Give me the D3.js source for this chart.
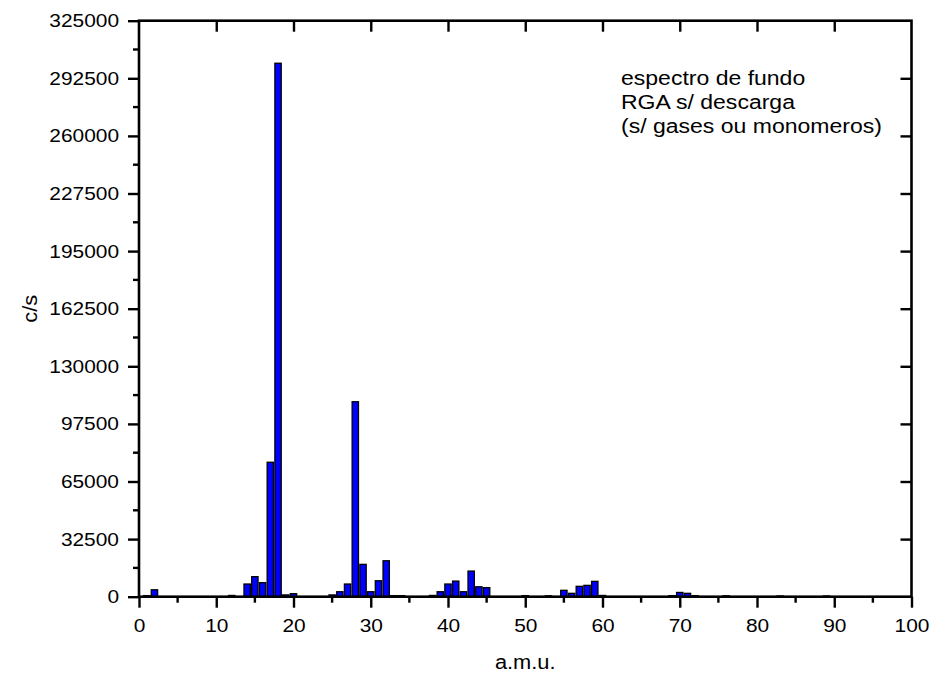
<!DOCTYPE html>
<html><head><meta charset="utf-8">
<script src="https://cdn.jsdelivr.net/npm/d3@7"></script>
<style>
html,body{margin:0;padding:0;background:#fff;}
text{font-family:"Liberation Sans",Arial,sans-serif;fill:#000;}
</style></head>
<body><svg id="c" width="932" height="680"></svg>
<script>
const amu    = [1,2,12,14,15,16,17,18,19,20,25,26,27,28,29,30,31,32,33,34,38,39,40,41,42,43,44,45,50,53,55,56,57,58,59,60,69,70,71,72,76,83,89];
const counts = [600,3900,700,7150,11300,7900,75850,301000,1000,1700,1000,2800,7150,110000,18250,2800,9000,20270,600,600,700,2800,7150,8800,2800,14450,5600,5100,600,500,3600,1900,5850,6400,8650,700,600,2400,1900,600,500,400,400];
const yTicks = [0,32500,65000,97500,130000,162500,195000,227500,260000,292500,325000];
const xTicks = [0,10,20,30,40,50,60,70,80,90,100];
const annotation = ["espectro de fundo","RGA s/ descarga","(s/ gases ou monomeros)"];
const xLabel = "a.m.u.", yLabel = "c/s";

const svg = d3.select("#c");
const L=139, R=911.5, T=20.7, B=596.7;
const x = d3.scaleLinear().domain([0,100]).range([L,R]);
const y = d3.scaleLinear().domain([0,325000]).range([B,T]);

function stretch(sel,k){ sel.each(function(){ const w=this.getComputedTextLength(); this.setAttribute("textLength",w*k); this.setAttribute("lengthAdjust","spacingAndGlyphs");}); }

const data = amu.map((a,i)=>({a, v:counts[i]}));
const bw = x(0.82)-x(0);
svg.append("g").selectAll("rect").data(data).join("rect")
  .attr("x",d=>x(d.a)-bw/2).attr("width",bw)
  .attr("y",d=>y(d.v)).attr("height",d=>B-y(d.v))
  .attr("fill","#0000ff").attr("stroke","#000").attr("stroke-width",1.3);

const minorY = d3.range(16250,325000,32500);
const minorX = d3.range(5,100,10);
const fs = "19px";

// left
const gl = svg.append("g").attr("transform",`translate(${L},0)`)
  .call(d3.axisLeft(y).tickValues(yTicks).tickSize(11).tickPadding(9).tickFormat(d3.format("d")));
gl.append("g").selectAll("line").data(minorY).join("line")
  .attr("x1",0).attr("x2",-6).attr("y1",d=>y(d)).attr("y2",d=>y(d));
// bottom
const gb = svg.append("g").attr("transform",`translate(0,${B})`)
  .call(d3.axisBottom(x).tickValues(xTicks).tickSize(11).tickPadding(11).tickFormat(d3.format("d")));
gb.append("g").selectAll("line").data(minorX).join("line")
  .attr("y1",0).attr("y2",6).attr("x1",d=>x(d)).attr("x2",d=>x(d));
// top
svg.append("g").attr("transform",`translate(0,${T})`)
  .call(d3.axisBottom(x).tickValues(xTicks.slice(1,-1)).tickSize(11).tickFormat(""));
// right
svg.append("g").attr("transform",`translate(${R},0)`)
  .call(d3.axisLeft(y).tickValues(yTicks.slice(1,-1)).tickSize(11).tickFormat(""));
// frame
svg.append("rect").attr("x",L).attr("y",T).attr("width",R-L).attr("height",B-T)
  .attr("fill","none").attr("stroke","#000").attr("stroke-width",2.6);

svg.selectAll(".domain").remove();
svg.selectAll(".tick line, g line").attr("stroke","#000").attr("stroke-width",2.4);
svg.selectAll(".tick text").attr("font-size",fs).attr("font-family","Liberation Sans, Arial, sans-serif").attr("fill","#000");
stretch(svg.selectAll(".tick text"),1.1);

// axis labels
const xl = svg.append("text").attr("x",(L+R)/2).attr("y",669).attr("text-anchor","middle").attr("font-size","19.5px").text(xLabel);
const yl = svg.append("text").attr("transform",`translate(37,${(T+B)/2}) rotate(-90)`).attr("text-anchor","middle").attr("font-size","19.5px").text(yLabel);
stretch(xl,1.12); stretch(yl,1.12);

// annotation
const an = svg.append("g");
annotation.forEach((t,i)=>{
  an.append("text").attr("x",621).attr("y",85+i*24).attr("font-size","19.5px").text(t);
});
stretch(an.selectAll("text"),1.18);
</script></body></html>
